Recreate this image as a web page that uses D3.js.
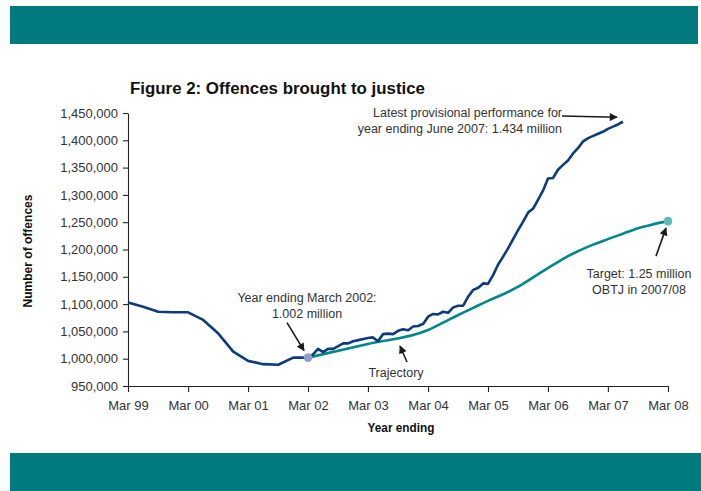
<!DOCTYPE html>
<html><head><meta charset="utf-8">
<script src="https://cdn.jsdelivr.net/npm/d3@7"></script>
<style>body{margin:0;background:#fff}svg{display:block}</style>
</head><body>
<svg id="c" width="701" height="491"></svg>
<script>
// ---- data ----
const xTickMonths = ["1999-03","2000-03","2001-03","2002-03","2003-03","2004-03","2005-03","2006-03","2007-03","2008-03"];
const xTickLabels = ["Mar 99","Mar 00","Mar 01","Mar 02","Mar 03","Mar 04","Mar 05","Mar 06","Mar 07","Mar 08"];
const yTicks = [950000,1000000,1050000,1100000,1150000,1200000,1250000,1300000,1350000,1400000,1450000];

const actualMonths = [
 "1999-03","1999-06","1999-09","1999-12","2000-03","2000-06","2000-09","2000-12",
 "2001-03","2001-06","2001-09","2001-12","2002-03",
 "2002-04","2002-05","2002-06","2002-07","2002-08","2002-09","2002-10","2002-11","2002-12",
 "2003-01","2003-02","2003-03","2003-04","2003-05","2003-06","2003-07","2003-08","2003-09","2003-10","2003-11","2003-12",
 "2004-01","2004-02","2004-03","2004-04","2004-05","2004-06","2004-07","2004-08","2004-09","2004-10","2004-11","2004-12",
 "2005-01","2005-02","2005-03","2005-04","2005-05","2005-06","2005-07","2005-08","2005-09","2005-10","2005-11","2005-12",
 "2006-01","2006-02","2006-03","2006-04","2006-05","2006-06","2006-07","2006-08","2006-09","2006-10","2006-11","2006-12",
 "2007-01","2007-02","2007-03","2007-04","2007-05","2007-06"];
const actualValues = [
 1103000,1095000,1086000,1085000,1085000,1071000,1046000,1013000,
 996000,990000,989000,1002000,1002000,
 1008000,1018000,1012000,1018000,1018000,1023000,1028000,1028000,1032000,
 1034000,1036000,1038000,1039000,1032000,1045000,1046000,1045000,1051000,1054000,1052000,1059000,
 1060000,1064000,1077000,1082000,1081000,1086000,1084000,1094000,1097000,1097000,1114000,1126000,
 1130000,1138000,1137000,1153000,1172000,1187000,1202000,1219000,1236000,1251000,1268000,1275000,
 1292000,1309000,1330000,1331000,1346000,1355000,1363000,1376000,1386000,1398000,1404000,1408000,
 1412000,1416000,1421000,1425000,1429000,1434000];

const trajectoryMonths = ["2002-03","2003-03","2004-03","2004-06","2004-09","2004-12","2005-03","2005-06",
 "2005-09","2005-12","2006-03","2006-06","2006-09","2006-12","2007-03","2007-06","2007-09","2007-12","2008-03"];
const trajectoryValues = [1002000,1027000,1052500,1066000,1080000,1093000,1106000,1118000,
 1132000,1149000,1166000,1183000,1197000,1209000,1219000,1229000,1239000,1246000,1252000];

const baselineMonth = "2002-03", baselineValue = 1002000;
const targetMonth = "2008-03", targetValue = 1252000;
const latestMonth = "2007-06", latestValue = 1434000;

// ---- drawing ----
const parse = d3.timeParse("%Y-%m");
const svg = d3.select("#c");
const teal = "#00797f";

svg.append("rect").attr("x",10).attr("y",6).attr("width",688).attr("height",38).attr("fill",teal);
svg.append("rect").attr("x",10).attr("y",453).attr("width",691).attr("height",38).attr("fill",teal);

const x = d3.scaleTime().domain([parse("1999-03"), parse("2008-03")]).range([128, 668]);
const y = d3.scaleLinear().domain([950000, 1450000]).range([386, 113]);

const font = "'Liberation Sans', Arial, sans-serif";
const txt = "#333";

// title
svg.append("text").attr("x",130).attr("y",94)
  .attr("font-family",font).attr("font-weight","bold").attr("font-size",16)
  .attr("textLength",295).attr("lengthAdjust","spacingAndGlyphs")
  .attr("fill","#111").text("Figure 2: Offences brought to justice");

// axes
const yAxis = d3.axisLeft(y).tickValues(yTicks).tickFormat(d3.format(","))
  .tickSize(5).tickSizeOuter(0).tickPadding(5);
const gy = svg.append("g").attr("transform","translate(128,0)").call(yAxis);
const xAxis = d3.axisBottom(x).tickValues(xTickMonths.map(parse)).tickFormat((d,i)=>xTickLabels[i])
  .tickSize(6).tickSizeOuter(0).tickPadding(9);
const gx = svg.append("g").attr("transform","translate(0,386)").call(xAxis);
[gx, gy].forEach(g => {
  g.selectAll("path,line").attr("stroke","#222").attr("stroke-width",1.1);
  g.selectAll("text").attr("font-family",font).attr("font-size",13).attr("fill",txt);
});

// axis titles
svg.append("text").attr("transform","translate(32,251) rotate(-90)").attr("text-anchor","middle")
  .attr("font-family",font).attr("font-weight","bold").attr("font-size",12)
  .attr("textLength",113).attr("lengthAdjust","spacingAndGlyphs")
  .attr("fill","#111").text("Number of offences");
svg.append("text").attr("x",401).attr("y",432).attr("text-anchor","middle")
  .attr("font-family",font).attr("font-weight","bold").attr("font-size",12)
  .attr("textLength",67).attr("lengthAdjust","spacingAndGlyphs")
  .attr("fill","#111").text("Year ending");

// lines
const trajData = trajectoryMonths.map((m,i)=>({d:parse(m), v:trajectoryValues[i]}));
const actData = actualMonths.map((m,i)=>({d:parse(m), v:actualValues[i]}));

svg.append("path").datum(trajData)
  .attr("d", d3.line().x(d=>x(d.d)).y(d=>y(d.v)).curve(d3.curveMonotoneX))
  .attr("fill","none").attr("stroke","#00878a").attr("stroke-width",2.6);
svg.append("path").datum(actData)
  .attr("d", d3.line().x(d=>x(d.d)).y(d=>y(d.v)))
  .attr("fill","none").attr("stroke","#0d3b7c").attr("stroke-width",2.6).attr("stroke-linejoin","round");

svg.append("circle").attr("cx",x(parse(baselineMonth))).attr("cy",y(baselineValue)).attr("r",4.3).attr("fill","#8d9dcc");
svg.append("circle").attr("cx",x(parse(targetMonth))).attr("cy",y(targetValue)).attr("r",4.3).attr("fill","#5cb9bd");

// arrows
const defs = svg.append("defs");
defs.append("marker").attr("id","ah").attr("viewBox","0 0 10 10").attr("refX",9).attr("refY",5)
  .attr("markerWidth",9).attr("markerHeight",8).attr("markerUnits","userSpaceOnUse").attr("orient","auto")
  .append("path").attr("d","M0,0 L10,5 L0,10 Z").attr("fill","#1a1a1a");
function arrow(x1,y1,x2,y2){
  svg.append("line").attr("x1",x1).attr("y1",y1).attr("x2",x2).attr("y2",y2)
    .attr("stroke","#1a1a1a").attr("stroke-width",1.6).attr("marker-end","url(#ah)");
}
function label(lines, cx, y0, anchor){
  const t = svg.append("text").attr("font-family",font).attr("font-size",12.5).attr("fill",txt).attr("text-anchor",anchor);
  lines.forEach((s,i)=>t.append("tspan").attr("x",cx).attr("y",y0+i*15.5).text(s));
}
const bx = x(parse(baselineMonth)), by = y(baselineValue);
const tx = x(parse(targetMonth)), ty = y(targetValue);
const lx = x(parse(latestMonth)), ly = y(latestValue);

label(["Latest provisional performance for","year ending June 2007: 1.434 million"], 562, 117, "end");
arrow(562, 116, lx-6, ly-4.5);
label(["Year ending March 2002:","1.002 million"], 307, 302, "middle");
arrow(bx-21, by-35, bx-4, by-7);
label(["Trajectory"], 396, 377, "middle");
arrow(407, 362, 400, 346);
label(["Target: 1.25 million","OBTJ in 2007/08"], 639, 278, "middle");
arrow(tx-12, ty+35, tx-2, ty+7);
</script>
</body></html>
